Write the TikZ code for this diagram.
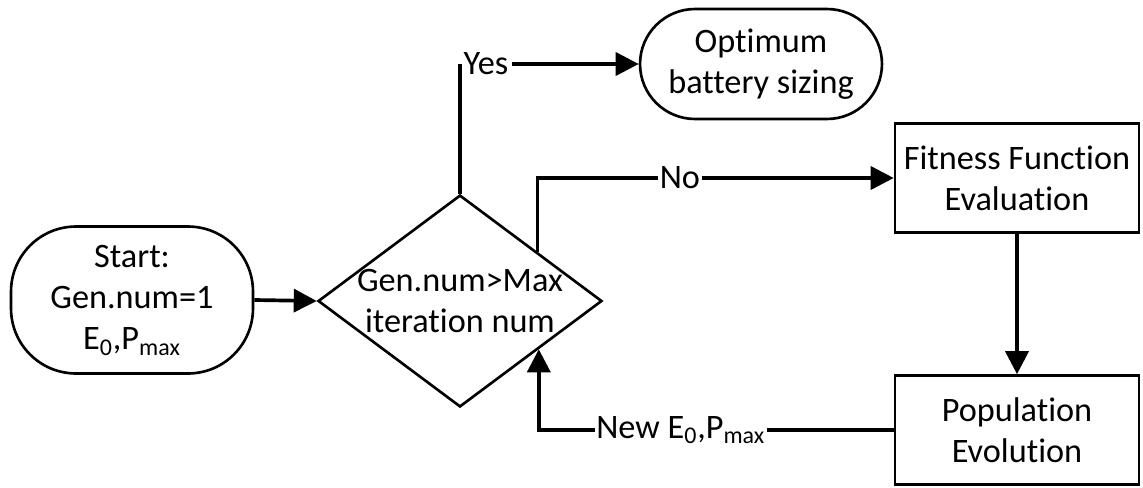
\documentclass[tikz,border=0pt]{standalone}
\usepackage{fontspec}
\setmainfont{Carlito}[RawFeature={-liga;-clig;-calt;-dlig;-rlig}]
\usetikzlibrary{arrows.meta,positioning,calc,shapes.geometric}
\tikzset{
    terminal/.style={draw, line width=1.5pt, minimum width=4.84cm, align=center, inner sep=0pt},
    process/.style={draw, line width=1.5pt, minimum width=4.88cm, minimum height=2.18cm, align=center},
    decision/.style={draw, diamond, line width=1.5pt, minimum width=5.68cm, minimum height=4.24cm, inner sep=0pt},
    flow/.style={line width=2.1pt, -{Triangle[length=0.46cm,width=0.46cm]}},
    link/.style={line width=2.1pt},
    tag/.style={fill=white, inner sep=1pt}
}

\begin{document}
\begin{tikzpicture}[x=0.02cm, y=-0.02cm, font=\fontsize{19.5}{23.5}\selectfont]
    \useasboundingbox (0,0) rectangle (1143,487);
    \node[terminal, rounded corners=1.3cm, minimum height=2.94cm] (start) at (132,300) {
        Start:\\
        Gen.num=1\\
        E\textsubscript{0},P\textsubscript{max}
    };
    \node[decision, label={[align=center]center:Gen.num>Max\\iteration num}] (check) at (460,301) {};
    \node[terminal, rounded corners=1.1cm, minimum height=2.2cm] (opt) at (761,64) {Optimum\\battery sizing};
    \node[process] (fit) at (1017,178) {Fitness Function\\Evaluation};
    \node[process] (pop) at (1017,430) {Population\\Evolution};

    \coordinate (noexit) at ($(check.north)!0.54!(check.east)$);
    \coordinate (back) at ($(check.east)!0.45!(check.south)$);

    \draw[flow] (start.east) -- (check.west);
    \draw[link] (check.north) -- (check.north |- opt.west) node[right, inner sep=1pt] (yes) {Yes};
    \draw[flow] (yes.east) -- (opt.west);
    \draw[flow] (noexit) |- node[tag, pos=0.7] {No} (fit.west);
    \draw[flow] (fit) -- (pop);
    \draw[flow] (pop.west) -| node[tag, pos=0.3] {New E\textsubscript{0},P\textsubscript{max}} (back);
\end{tikzpicture}
\end{document}
